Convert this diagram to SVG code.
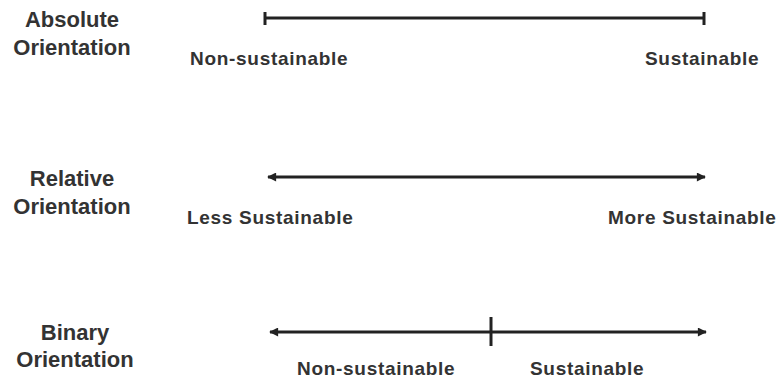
<svg xmlns="http://www.w3.org/2000/svg" width="780" height="380" viewBox="0 0 780 380">
<defs>
<style>
.lbl{font-family:"Liberation Sans",Arial,sans-serif;font-weight:bold;font-size:22px;fill:#333;text-anchor:middle}
.end{font-family:"Liberation Sans",Arial,sans-serif;font-weight:bold;font-size:19px;letter-spacing:0.7px;fill:#333}
.ln{stroke:#222;stroke-width:3;fill:none}
.tk{stroke:#222;stroke-width:3}
</style>
<marker id="ah" viewBox="0 0 10 10" refX="9" refY="5" markerWidth="10" markerHeight="9" markerUnits="userSpaceOnUse" orient="auto-start-reverse">
<path d="M0,0 L10,5 L0,10 Z" fill="#222"/>
</marker>
</defs>
<rect width="780" height="380" fill="#fff"/>
<g id="absolute">
<text class="lbl" x="72" y="27">Absolute</text>
<text class="lbl" x="72" y="55">Orientation</text>
<text class="end" x="190" y="65">Non-sustainable</text>
<text class="end" x="645" y="65">Sustainable</text>
</g>
<g id="relative">
<text class="lbl" x="72" y="186">Relative</text>
<text class="lbl" x="72" y="214">Orientation</text>
<text class="end" x="187" y="224">Less Sustainable</text>
<text class="end" x="608" y="224">More Sustainable</text>
</g>
<g id="binary">
<text class="lbl" x="75" y="340">Binary</text>
<text class="lbl" x="75" y="367">Orientation</text>
<text class="end" x="297" y="375">Non-sustainable</text>
<text class="end" x="530" y="375">Sustainable</text>
</g>
<g id="connectors">
<line class="ln" x1="265" y1="18" x2="704" y2="18"/>
<line class="tk" x1="265" y1="12" x2="265" y2="25"/>
<line class="tk" x1="704" y1="12" x2="704" y2="25"/>
<line class="ln" x1="268" y1="177" x2="705" y2="177" marker-start="url(#ah)" marker-end="url(#ah)"/>
<line class="ln" x1="270" y1="332" x2="706" y2="332" marker-start="url(#ah)" marker-end="url(#ah)"/>
<line class="tk" x1="491" y1="317" x2="491" y2="346"/>
</g>
</svg>
